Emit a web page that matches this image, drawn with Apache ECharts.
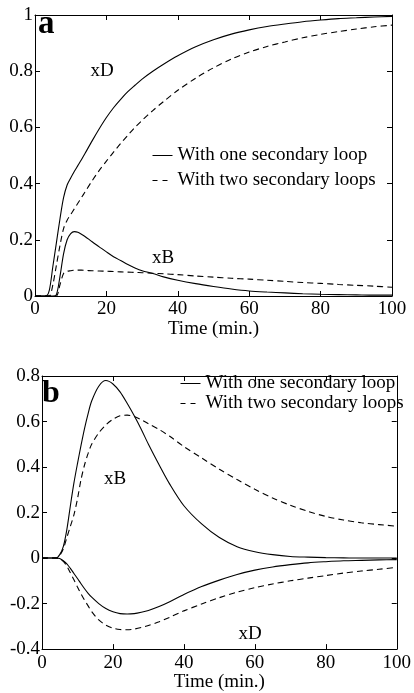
<!DOCTYPE html>
<html>
<head>
<meta charset="utf-8">
<script src="https://cdn.jsdelivr.net/npm/echarts@6/dist/echarts.min.js"></script>
<style>
  html, body { margin: 0; padding: 0; background: #fff; }
  #chart { width: 414px; height: 693px; }
</style>
</head>
<body>
<div id="chart"></div>
<script>
// time samples (min.)
const time = [0, 3, 4, 5, 6, 7, 8, 9, 10, 11, 12, 13, 14, 16, 18, 20, 22, 24, 26, 28, 30,
  33, 36, 40, 45, 50, 55, 60, 65, 70, 75, 80, 85, 90, 95, 100];

// panel a
const aOneD = [0, 0, 0.02, 0.105, 0.19, 0.275, 0.35, 0.395, 0.42, 0.443, 0.464, 0.485, 0.507, 0.552, 0.595, 0.635,
  0.67, 0.7, 0.727, 0.75, 0.772, 0.8, 0.825, 0.855, 0.887, 0.912, 0.932, 0.947, 0.959, 0.968, 0.976, 0.982, 0.987, 0.99, 0.993, 0.995];
const aTwoD = [0, 0, 0, 0.04, 0.11, 0.18, 0.24, 0.27, 0.29, 0.31, 0.33, 0.35, 0.37, 0.41, 0.447, 0.48,
  0.512, 0.543, 0.572, 0.6, 0.625, 0.66, 0.692, 0.732, 0.775, 0.812, 0.843, 0.868, 0.888, 0.904, 0.919, 0.931, 0.941, 0.95, 0.958, 0.964];
const aOneB = [0, 0, 0, 0, 0.005, 0.07, 0.15, 0.2, 0.222, 0.229, 0.227, 0.22, 0.212, 0.193, 0.175, 0.157,
  0.14, 0.126, 0.112, 0.1, 0.09, 0.08, 0.068, 0.056, 0.044, 0.034, 0.025, 0.018, 0.014, 0.011, 0.008, 0.006, 0.005, 0.004, 0.003, 0.003];
const aTwoB = [0, 0, 0, 0, 0, 0.04, 0.08, 0.088, 0.09, 0.092, 0.092, 0.092, 0.091, 0.09, 0.089, 0.088,
  0.087, 0.086, 0.085, 0.084, 0.083, 0.081, 0.079, 0.076, 0.071, 0.067, 0.063, 0.06, 0.056, 0.052, 0.048, 0.045, 0.041, 0.038, 0.035, 0.031];

// panel b
const bOneB = [0, 0, 0, 0.015, 0.05, 0.125, 0.23, 0.33, 0.415, 0.495, 0.57, 0.635, 0.69, 0.755, 0.78, 0.765,
  0.73, 0.68, 0.625, 0.565, 0.5, 0.41, 0.325, 0.23, 0.15, 0.09, 0.05, 0.028, 0.015, 0.007, 0.004, 0.002, 0.001, 0, 0, 0];
const bTwoB = [0, 0, 0, 0.012, 0.04, 0.09, 0.14, 0.19, 0.26, 0.345, 0.41, 0.46, 0.5, 0.55, 0.585, 0.61,
  0.625, 0.628, 0.622, 0.608, 0.59, 0.565, 0.535, 0.49, 0.44, 0.39, 0.345, 0.302, 0.264, 0.232, 0.205, 0.183, 0.167, 0.155, 0.147, 0.14];
const bOneD = [0, 0, 0, -0.002, -0.012, -0.025, -0.045, -0.068, -0.09, -0.113, -0.135, -0.155, -0.172, -0.2, -0.222, -0.236,
  -0.244, -0.246, -0.244, -0.238, -0.23, -0.213, -0.192, -0.16, -0.125, -0.097, -0.072, -0.053, -0.039, -0.029, -0.021, -0.016, -0.012, -0.01, -0.008, -0.007];
const bTwoD = [0, 0, 0, -0.003, -0.015, -0.035, -0.065, -0.095, -0.127, -0.157, -0.185, -0.21, -0.235, -0.272, -0.295, -0.308,
  -0.314, -0.315, -0.312, -0.305, -0.296, -0.28, -0.26, -0.232, -0.202, -0.174, -0.15, -0.13, -0.114, -0.1, -0.088, -0.077, -0.066, -0.057, -0.049, -0.041];

const nameOne = 'With one secondary loop';
const nameTwo = 'With two secondary loops';

const font = "'Liberation Serif', 'Times New Roman', serif";
const pairs = arr => time.map((t, i) => [t, arr[i]]);

const chart = echarts.init(document.getElementById('chart'));

// axis helpers
function xAxisOf(grid, pos, labels, gap) {
  return {
    type: 'value', gridIndex: grid, position: pos, min: 0, max: 100, interval: 20,
    name: labels ? 'Time (min.)' : '', nameLocation: 'middle', nameGap: gap,
    nameTextStyle: { fontFamily: font, fontSize: 19, color: '#000' },
    axisLine: { show: true, onZero: false, lineStyle: { color: '#000', width: 1 } },
    axisTick: { show: true, inside: true, length: 5, lineStyle: { color: '#000' } },
    axisLabel: { show: labels, margin: 4, fontFamily: font, fontSize: 19, color: '#000' },
    splitLine: { show: false }
  };
}
function yAxisOf(grid, pos, labels, min, max) {
  return {
    type: 'value', gridIndex: grid, position: pos, min: min, max: max, interval: 0.2,
    axisLine: { show: true, onZero: false, lineStyle: { color: '#000', width: 1 } },
    axisTick: { show: true, inside: true, length: 5, lineStyle: { color: '#000' } },
    axisLabel: { show: labels, margin: 2, fontFamily: font, fontSize: 19, color: '#000' },
    splitLine: { show: false }
  };
}
function line(name, data, xi, yi, dashed) {
  return {
    name: name, type: 'line', xAxisIndex: xi, yAxisIndex: yi, data: pairs(data),
    symbol: 'none', smooth: 0.3, animation: false,
    lineStyle: { color: '#000', width: 1.1, type: dashed ? [6, 4] : 'solid' },
    itemStyle: { color: '#000' }
  };
}

const legendBase = {
  data: [
    { name: nameOne, lineStyle: { color: '#000', width: 1, type: 'solid' } },
    { name: nameTwo, lineStyle: { color: '#000', width: 1, type: [5, 5] } }
  ],
  orient: 'vertical', itemWidth: 20, itemHeight: 10, padding: 0,
  itemStyle: { opacity: 0 },
  textStyle: { fontFamily: font, fontSize: 19, color: '#000' }, selectedMode: false
};

const option = {
  backgroundColor: '#fff',
  animation: false,
  grid: [
    { left: 35, top: 15, width: 357, height: 281 },
    { left: 42, top: 376, width: 356, height: 281 }
  ],
  xAxis: [xAxisOf(0, 'bottom', true, 18), xAxisOf(0, 'top', false, 0),
    xAxisOf(1, 'bottom', true, 20), xAxisOf(1, 'top', false, 0)],
  yAxis: [yAxisOf(0, 'left', true, 0, 1), yAxisOf(0, 'right', false, 0, 1),
    yAxisOf(1, 'left', true, -0.4, 0.8), yAxisOf(1, 'right', false, -0.4, 0.8)],
  legend: [
    Object.assign({}, legendBase, { left: 152, top: 146, itemGap: 6 }),
    Object.assign({}, legendBase, { left: 180, top: 374, itemGap: 1 })
  ],
  series: [
    line(nameOne, aOneD, 0, 0, false),
    line(nameTwo, aTwoD, 0, 0, true),
    line(nameOne, aOneB, 0, 0, false),
    line(nameTwo, aTwoB, 0, 0, true),
    line(nameOne, bOneB, 2, 2, false),
    line(nameTwo, bTwoB, 2, 2, true),
    line(nameOne, bOneD, 2, 2, false),
    line(nameTwo, bTwoD, 2, 2, true)
  ],
  graphic: [
    { type: 'text', left: 38, top: 8, style: { text: 'a', font: "bold 33px " + font, fill: '#000' } },
    { type: 'text', left: 42, top: 378, style: { text: 'b', font: "bold 32px " + font, fill: '#000' } },
    { type: 'text', x: 102, y: 71, style: { text: 'xD', font: "19px " + font, fill: '#000', align: 'center', verticalAlign: 'middle' } },
    { type: 'text', x: 163, y: 258, style: { text: 'xB', font: "19px " + font, fill: '#000', align: 'center', verticalAlign: 'middle' } },
    { type: 'text', x: 115, y: 479, style: { text: 'xB', font: "19px " + font, fill: '#000', align: 'center', verticalAlign: 'middle' } },
    { type: 'text', x: 250, y: 634, style: { text: 'xD', font: "19px " + font, fill: '#000', align: 'center', verticalAlign: 'middle' } }
  ]
};

chart.setOption(option);
</script>
</body>
</html>
